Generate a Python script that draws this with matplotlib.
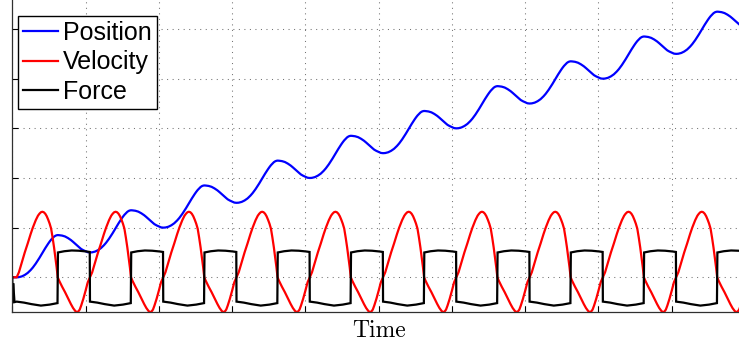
import numpy as np
import matplotlib
matplotlib.use("Agg")
import matplotlib.pyplot as plt

# ---- data -----------------------------------------------------------------
# Phase (fraction of one period) at which each cycle profile is sampled
phase_up = [0.00, 0.03, 0.07, 0.11, 0.15, 0.19, 0.22, 0.26, 0.29, 0.31, 0.33,
            0.35, 0.37, 0.39, 0.41, 0.43, 0.45, 0.47, 0.49, 0.51, 0.53, 0.545, 0.56]
phase_down = [0.58, 0.62, 0.66, 0.70, 0.74, 0.77, 0.80, 0.82, 0.84, 0.86, 0.88,
              0.91, 0.94, 0.97]

# Velocity over one period
velocity_up = [0.00, 0.10, 0.30, 0.50, 0.68, 0.87, 1.00, 1.15, 1.24, 1.28, 1.31,
               1.32, 1.31, 1.28, 1.23, 1.16, 1.08, 0.98, 0.80, 0.60, 0.38, 0.20, 0.00]
velocity_down = [-0.07, -0.19, -0.30, -0.42, -0.54, -0.62, -0.68, -0.70, -0.69,
                 -0.65, -0.57, -0.43, -0.27, -0.10]

# Position over one period, relative to the level at the start of the period
position_up = [0.000, 0.003, 0.018, 0.047, 0.088, 0.145, 0.196, 0.276, 0.344,
               0.390, 0.440, 0.490, 0.538, 0.587, 0.633, 0.678, 0.720, 0.758,
               0.790, 0.819, 0.838, 0.846, 0.850]
position_down = [0.848, 0.840, 0.822, 0.790, 0.750, 0.713, 0.673, 0.647, 0.620,
                 0.595, 0.570, 0.545, 0.524, 0.505]

# Force over one period (low phase, then high phase)
force_phase = [0.00, 0.10, 0.20, 0.33, 0.45, 0.557, 0.563, 0.65, 0.75, 0.85, 0.95, 0.997]
force_cycle = [-0.49, -0.51, -0.54, -0.57, -0.55, -0.52, 0.50, 0.525, 0.54, 0.535, 0.52, 0.51]

# Position level at the start of each period
cycle_base = [0.0, 0.5, 1.0, 1.5, 2.0, 2.5, 3.0, 3.5, 4.0, 4.5]
cycle_offset = 0.06  # time of the first period start

# Start-up transient before the first period
startup_t = [0.0, 0.004, 0.012, 0.03]
startup_force = [0.0, -0.52, -0.12, -0.50]
startup_velocity = [0.0, 0.0, 0.0, 0.0]
startup_position = [0.0, 0.0, 0.0, 0.0]

# ---- assemble the time series ---------------------------------------------
phase_vp = np.array(phase_up + phase_down)
vel_cycle = np.array(velocity_up + velocity_down)
pos_cycle = np.array(position_up + position_down)
f_phase = np.array(force_phase)
f_cycle = np.array(force_cycle)

t_vp = list(startup_t)
vel = list(startup_velocity)
pos = list(startup_position)
t_f = list(startup_t)
force = list(startup_force)
for k, base in enumerate(cycle_base):
    start = k + cycle_offset
    t_vp.extend(start + phase_vp)
    vel.extend(vel_cycle)
    pos.extend(base + pos_cycle)
    t_f.extend(start + f_phase)
    force.extend(f_cycle)

# ---- figure ---------------------------------------------------------------
W, H = 739, 342
fig = plt.figure(figsize=(W / 100, H / 100), dpi=100)
left_px, bottom_px = 12.3, 311.7
ax = fig.add_axes([left_px / W, (H - bottom_px) / H, 1 - left_px / W, bottom_px / H])

lw = 1.6
ax.plot(t_vp, pos, color=(0, 0, 1), lw=lw, label="Position", solid_joinstyle="round")
ax.plot(t_vp, vel, color=(1, 0, 0), lw=lw, label="Velocity", solid_joinstyle="round")
ax.plot(t_f, force, color="black", lw=lw, label="Force", solid_joinstyle="miter")

ax.set_xlim(0, 9.918)
ax.set_ylim(-0.693, 5.585)
ax.set_xticks(np.arange(0, 10))
ax.set_yticks(np.arange(0, 6))
ax.tick_params(direction="in", length=4, width=0.8, labelbottom=False,
               labelleft=False, colors="black")
ax.grid(True, linestyle=(0, (1, 4.3)), color="0.45", linewidth=0.75)
ax.set_axisbelow(True)
for side in ("top", "right"):
    ax.spines[side].set_visible(False)
for side in ("left", "bottom"):
    ax.spines[side].set_color("#303030")
    ax.spines[side].set_linewidth(0.9)

leg = ax.legend(loc="upper left", bbox_to_anchor=(18 / W, 1 - 16 / H),
                bbox_transform=fig.transFigure, borderaxespad=0,
                prop={"family": "Liberation Sans", "size": 18},
                handlelength=1.4, handletextpad=0.2, borderpad=0.2,
                labelspacing=0.22, fancybox=False, framealpha=1,
                edgecolor="black")
leg.get_frame().set_linewidth(1.0)
for line in leg.get_lines():
    line.set_linewidth(1.6)

fig.text(378.5 / W, (H - 337) / H, "Time", fontname="cmr10", fontsize=17,
         ha="center", va="baseline")

fig.savefig("out.png", dpi=100)
